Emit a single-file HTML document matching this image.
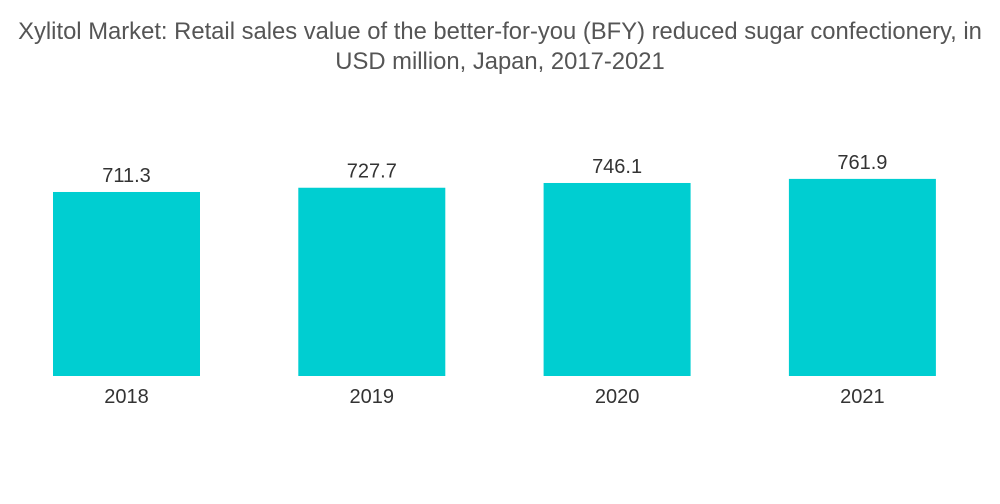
<!DOCTYPE html>
<html><head><meta charset="utf-8"><style>
body{margin:0;background:#fff;width:1000px;height:504px;overflow:hidden;font-family:"Liberation Sans",sans-serif;}
#title{position:absolute;left:0;top:17px;width:1000px;text-align:center;color:#555;font-size:23.8px;line-height:30px;white-space:nowrap;}
</style></head><body>
<div id="title">Xylitol Market: Retail sales value of the better-for-you (BFY) reduced sugar confectionery, in<br>USD million, Japan, 2017-2021</div>
<svg id="chart" width="1000" height="504" style="position:absolute;left:0;top:0"></svg>
<script>
const categories=["2018","2019","2020","2021"];
const values=[711.3,727.7,746.1,761.9];
const svg=document.getElementById('chart');
const ns='http://www.w3.org/2000/svg';
const baseY=376, pxPerUnit=0.2587, x0=53, step=245.3, bw=147;
function yScale(v){return baseY-v*pxPerUnit;}
function xScale(i){return x0+i*step;}
categories.forEach((c,i)=>{
  const r=document.createElementNS(ns,'rect');
  
  
  r.setAttribute('x',xScale(i));r.setAttribute('y',yScale(values[i]));
  r.setAttribute('width',bw);r.setAttribute('height',baseY-yScale(values[i]));
  r.setAttribute('fill','#00CED1');svg.appendChild(r);
  const t=document.createElementNS(ns,'text');
  
  
  t.setAttribute('x',xScale(i)+bw/2);t.setAttribute('y',yScale(values[i])-10);
  t.setAttribute('text-anchor','middle');t.setAttribute('font-size','20');t.setAttribute('fill','#333');
  t.setAttribute('font-family','Liberation Sans, sans-serif');
  t.textContent=values[i].toFixed(1);svg.appendChild(t);
  const l=document.createElementNS(ns,'text');
  
  
  l.setAttribute('x',xScale(i)+bw/2);l.setAttribute('y',403);
  l.setAttribute('text-anchor','middle');l.setAttribute('font-size','20');l.setAttribute('fill','#333');
  l.setAttribute('font-family','Liberation Sans, sans-serif');
  l.textContent=c;svg.appendChild(l);
});
</script>
</body></html>
